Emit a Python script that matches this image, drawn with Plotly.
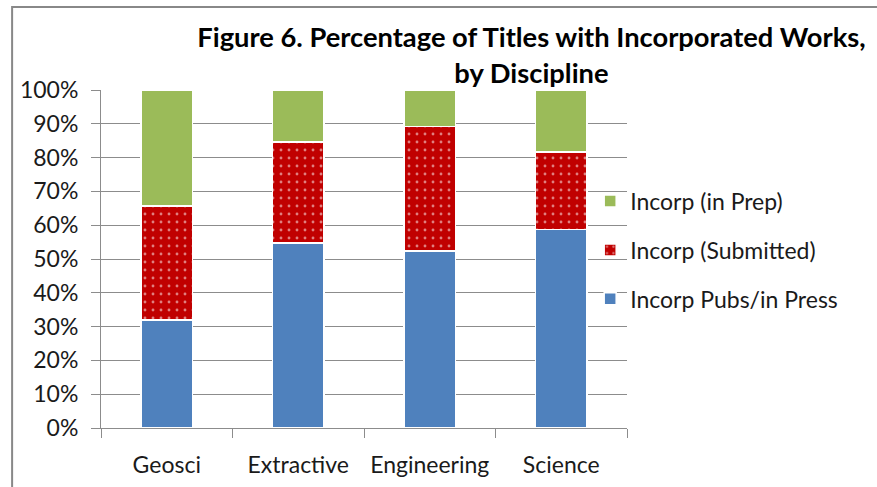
import plotly.graph_objects as go

# Share of titles with incorporated works, by discipline (percent)
disciplines = ["Geosci", "Extractive", "Engineering", "Science"]
pubs_in_press = [32.0, 54.7, 52.4, 58.8]
submitted = [33.7, 29.9, 36.8, 22.8]
in_prep = [34.3, 15.4, 10.8, 18.4]

series_names = ["Incorp Pubs/in Press", "Incorp (Submitted)", "Incorp (in Prep)"]
y_ticks = list(range(0, 101, 10))
y_tick_text = [f"{v}%" for v in y_ticks]

FONT = "Lato"
TEXT = "#1a1a1a"
GRID = "#8c8c8c"

fig = go.Figure()

fig.add_trace(go.Bar(
    x=disciplines, y=pubs_in_press, name=series_names[0],
    legendgroup="a", legendrank=3,
    marker=dict(color="#4F81BD", line=dict(color="white", width=1.5)),
))
fig.add_trace(go.Bar(
    x=disciplines, y=submitted, name=series_names[1],
    legendgroup="b", legendrank=2,
    marker=dict(
        color="#C00000",
        line=dict(color="white", width=1.5),
        pattern=dict(shape=".", fgcolor="white", bgcolor="#C00000",
                     size=8, solidity=0.1),
    ),
))
fig.add_trace(go.Bar(
    x=disciplines, y=in_prep, name=series_names[2],
    legendgroup="c", legendrank=1,
    marker=dict(color="#9BBB59", line=dict(color="white", width=1.5)),
))

fig.update_layout(
    width=877, height=487,
    margin=dict(l=101, r=250, t=90, b=59),
    paper_bgcolor="white", plot_bgcolor="white",
    barmode="stack", bargap=0.61,
    font=dict(family=FONT, size=23, color=TEXT),
    title=dict(
        text="<b>Figure 6. Percentage of Titles with Incorporated Works,<br>by Discipline</b>",
        x=0.606, xref="container", xanchor="center",
        y=0.903, yref="container", yanchor="top",
        font=dict(family=FONT, size=27.3, color="black"),
        automargin=False,
    ),
    legend=dict(
        x=0.93, xanchor="left", y=0.735, yanchor="top",
        traceorder="grouped", tracegroupgap=16,
        bgcolor="rgba(0,0,0,0)",
        font=dict(family=FONT, size=23, color=TEXT),
    ),
    xaxis=dict(
        type="category", tickson="boundaries",
        ticks="outside", ticklen=9, tickcolor=GRID, tickwidth=1,
        showline=True, linecolor=GRID, linewidth=1,
        showgrid=False, ticklabelstandoff=16, automargin=False,
    ),
    yaxis=dict(
        range=[0, 100], tickvals=y_ticks, ticktext=y_tick_text,
        ticks="outside", ticklen=9, tickcolor=GRID, tickwidth=1,
        showline=True, linecolor=GRID, linewidth=1,
        showgrid=True, gridcolor=GRID, gridwidth=1,
        zeroline=False, ticklabelstandoff=8, automargin=False,
    ),
    showlegend=True,
)

# Chart frame
fig.add_shape(
    type="rect", xref="paper", yref="paper",
    x0=-0.169, x1=1.7, y0=-0.4, y1=1.2456,
    line=dict(color="#888888", width=2), fillcolor="rgba(0,0,0,0)",
    layer="below",
)

fig.write_html("out.html")
